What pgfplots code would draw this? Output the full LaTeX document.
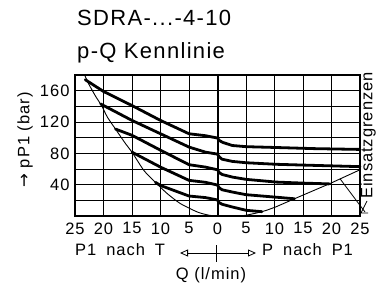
\documentclass[border=0pt]{standalone}
\usepackage{fontspec}
\setmainfont{Liberation Sans}[LetterSpace=6]
\newfontfamily\arrowfont{DejaVu Sans}
\usepackage{pgfplots}
\pgfplotsset{compat=1.18}
\usetikzlibrary{arrows.meta}
\newcommand{\fs}{\fontsize{16.5bp}{19bp}\selectfont}
\begin{document}
\begin{tikzpicture}
\path[use as bounding box] (0,0) rectangle (385bp,287bp);
\begin{axis}[
  at={(75bp,71bp)}, anchor=south west,
  scale only axis, width=285bp, height=141bp,
  xmin=-25, xmax=25, ymin=0, ymax=180,
  xtick={-25,-20,...,25}, xticklabels={25,20,15,10,5,0,5,10,15,20,25},
  ytick={0,20,...,180}, yticklabels={,,40,,80,,120,,160,},
  grid=major, major grid style={black, line width=0.9bp},
  major tick length=0pt,
  axis line style={line width=1.3bp},
  tick label style={font=\fs},
  /pgf/number format/assume math mode=true,
  xticklabel style={yshift=-3bp},
  yticklabel style={xshift=-2bp},
  clip=false,
]
\addplot[black, line width=2bp] coordinates {(0,0) (0,180)};
% envelope (Einsatzgrenzen)
\addplot[black, line width=0.9bp, smooth, tension=0.4] coordinates {
(-23.3,180) (-22.7,170) (-21.4,153) (-20.35,141) (-19.3,126) (-17.9,111) (-16.1,92) (-15,81.5) (-12.9,58) (-10.9,43) (-8.8,28.5) (-6.5,15.8) (-3.5,5) (-1.5,1) (0,0)};
\addplot[black, line width=0.9bp] coordinates {
(0,0) (4,0) (5,1) (6.5,3.2) (8.5,7) (10.2,11.5) (13.5,22) (19.6,41) (25,59)};
% characteristic curves
\addplot[black, line width=2.8bp, line join=round, line cap=round] coordinates {
(-23.2,174) (-20,159) (-15,141) (-10,122) (-5,105) (-2.1,102.5) (0,99.5) (0.3,96.5) (0.9,94) (2.6,90) (5,88.5) (10,87.5) (17,86) (25,85)};
\addplot[black, line width=2.8bp, line join=round, line cap=round] coordinates {
(-20.5,143) (-15,122) (-10,105) (-5,88) (-2.1,81.5) (0,79) (0.3,75.5) (0.8,72.5) (2.6,69.7) (5,68) (10.3,66) (17,64.6) (25,63)};
\addplot[black, line width=2.8bp, line join=round, line cap=round] coordinates {
(-17.9,111) (-15,103) (-10,84) (-5,65.5) (-2.1,62.4) (0,59) (0.3,55.5) (0.8,53) (2.6,49.7) (5,46.8) (10.3,43.3) (15,42) (19.6,41)};
\addplot[black, line width=2.8bp, line join=round, line cap=round] coordinates {
(-15,81.5) (-10,62.4) (-5,45.5) (-2.1,43) (0,39.5) (0.3,36) (0.8,33.5) (2.6,30.6) (5,27.2) (10.3,24) (13.5,22)};
\addplot[black, line width=2.8bp, line join=round, line cap=round] coordinates {
(-10.9,43) (-10,39) (-5,25.5) (-2.1,23.5) (0,20.5) (0.3,17) (0.8,15) (2.6,11.5) (5,7.3) (7.8,5.5)};
\coordinate (L) at (axis cs:21.5,47.5);
\end{axis}
% leader to Einsatzgrenzen
\draw[line width=0.8bp] (L) -- (365bp,75bp);
\draw[line width=0.8bp] (367bp,86bp) -- (361bp,74bp) -- (368bp,74bp);
\node[rotate=90, anchor=west, inner sep=0pt, font=\fs] at (368bp,88bp) {Einsatzgrenzen};
% titles
\node[anchor=base west, inner sep=0pt, font=\fontsize{22bp}{26bp}\selectfont] at (77bp,261bp) {SDRA-...-4-10};
\node[anchor=base west, inner sep=0pt, font=\fontsize{22bp}{26bp}\selectfont] at (77bp,228bp) {p-Q Kennlinie};
% y label
\node[rotate=90, inner sep=0pt, font=\fs] at (25bp,147bp) {{\arrowfont →} pP1 (bar)};
% x labels
\node[anchor=base west, inner sep=0pt, font=\fs] at (75bp,32bp) {P1\hspace{0.6em}nach\hspace{0.6em}T};
\node[anchor=base west, inner sep=0pt, font=\fs] at (262bp,32bp) {P\hspace{0.6em}nach\hspace{0.6em}P1};
\node[anchor=base, inner sep=0pt, font=\fs] at (211bp,8bp) {Q (l/min)};
\draw[line width=0.8bp, {Triangle[open, length=8bp, width=7bp]}-{Triangle[open, length=8bp, width=7bp]}] (180bp,34bp) -- (256bp,34bp);
\draw[line width=0.8bp] (216.7bp,25bp) -- (216.7bp,42bp);
\end{tikzpicture}
\end{document}
